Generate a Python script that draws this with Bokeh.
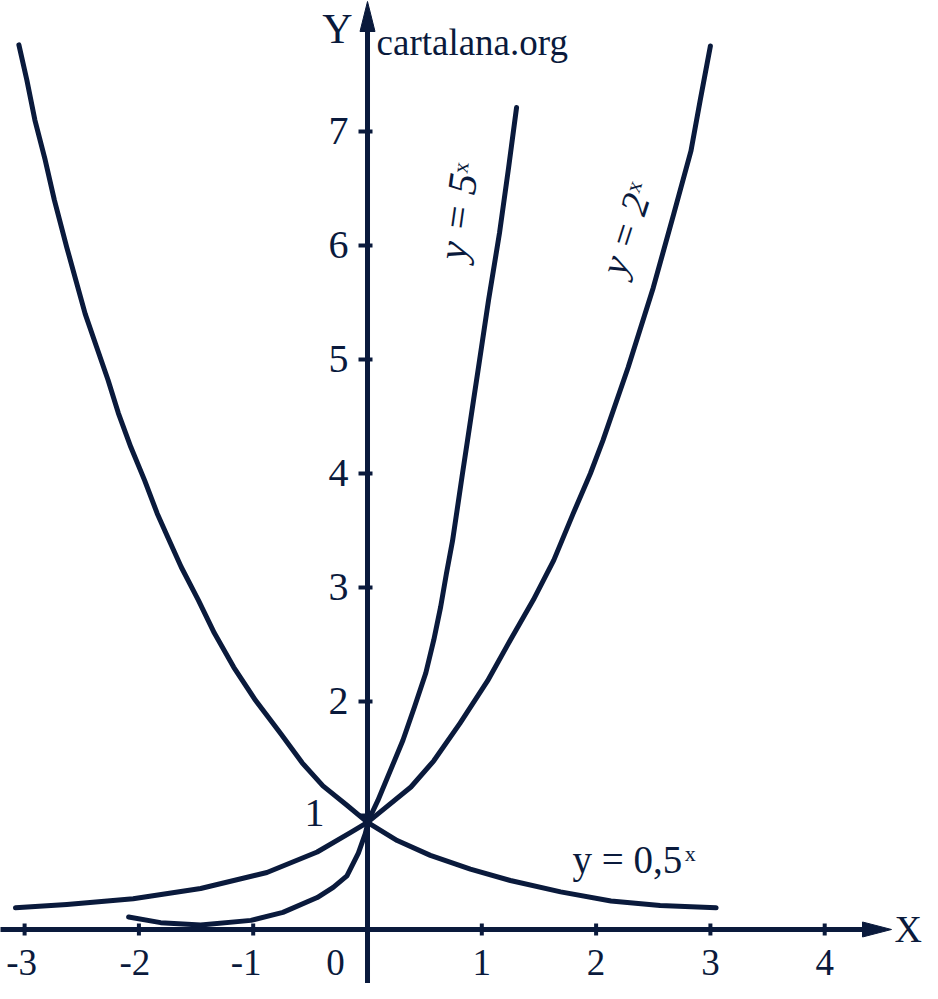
from bokeh.plotting import figure
from bokeh.models import Range1d, ColumnDataSource
from bokeh.embed import file_html
from bokeh.resources import INLINE
from bokeh.core.properties import value

# ---------------- data ----------------
# y = 0,5^x
HALF_X = [-3.05, -2.98, -2.91, -2.82, -2.74, -2.63, -2.55, -2.47, -2.37, -2.27, -2.18,
          -2.07, -1.95, -1.84, -1.76, -1.63, -1.48, -1.34, -1.17, -0.98, -0.76, -0.57,
          -0.39, -0.18, 0.00, 0.26, 0.55, 0.90, 1.25, 1.69, 2.13, 2.56, 3.05]
HALF_Y = [7.76, 7.45, 7.10, 6.75, 6.40, 5.98, 5.69, 5.40, 5.11, 4.82, 4.53,
          4.23, 3.94, 3.65, 3.47, 3.18, 2.89, 2.60, 2.30, 2.01, 1.72, 1.46,
          1.26, 1.09, 0.94, 0.78, 0.65, 0.53, 0.43, 0.33, 0.25, 0.21, 0.19]
# y = 2^x
TWO_X = [-3.08, -2.63, -2.05, -1.46, -0.88, -0.44, -0.15, 0.00, 0.38, 0.58, 0.81,
         1.05, 1.25, 1.45, 1.63, 1.80, 1.95, 2.06, 2.28, 2.50, 2.68, 2.83, 2.91, 3.00]
TWO_Y = [0.19, 0.22, 0.27, 0.36, 0.50, 0.68, 0.85, 0.94, 1.25, 1.48, 1.81,
         2.18, 2.54, 2.89, 3.24, 3.65, 4.00, 4.29, 4.93, 5.63, 6.28, 6.83, 7.27, 7.75]
# y = 5^x
FIVE_X = [-2.09, -1.81, -1.46, -1.02, -0.74, -0.44, -0.30, -0.18, -0.08, -0.02, 0.01,
          0.09, 0.19, 0.31, 0.41, 0.51, 0.58, 0.64, 0.69, 0.744, 0.787, 0.831, 0.875,
          0.927, 0.971, 1.059, 1.155, 1.234, 1.304]
FIVE_Y = [0.11, 0.06, 0.04, 0.08, 0.15, 0.28, 0.37, 0.47, 0.67, 0.84, 0.96,
          1.13, 1.37, 1.66, 1.95, 2.25, 2.54, 2.83, 3.12, 3.41, 3.70, 4.00, 4.29,
          4.64, 4.93, 5.52, 6.11, 6.68, 7.21]

X_TICKS = [-3, -2, -1, 1, 2, 3, 4]
X_TICK_LABELS = ["-3", "-2", "-1", "1", "2", "3", "4"]
Y_TICKS = [1, 2, 3, 4, 5, 6, 7]
Y_TICK_LABELS = ["1", "2", "3", "4", "5", "6", "7"]
ORIGIN_LABEL = "0"

# ---------------- styling / layout ----------------
NAVY = "#0a1a3c"
FONT = value("Liberation Serif")
PX = 114.3   # screen px per x unit
PY = 114.0   # screen px per y unit
X_START, X_END = -3.2109, 4.8556
Y_START, Y_END = -0.4737, 8.1491

p = figure(width=922, height=983, output_backend="svg", toolbar_location=None,
           x_range=Range1d(X_START, X_END), y_range=Range1d(Y_START, Y_END),
           x_axis_location=None, y_axis_location=None, min_border=0,
           outline_line_color=None, background_fill_color="white",
           border_fill_color="white")
p.grid.visible = False

TXT = dict(text_font=FONT, text_color=NAVY, text_baseline="middle")

# axes with arrow heads
x_tip = 4.5844
x_base = x_tip - 29 / PX
y_tip = Y_END - 1 / PY
y_base = y_tip - 30 / PY
p.segment(x0=[X_START - 0.2], y0=[0], x1=[x_base + 0.02], y1=[0], line_color=NAVY, line_width=5)
p.segment(x0=[0], y0=[Y_START - 0.2], x1=[0], y1=[y_base + 0.02], line_color=NAVY, line_width=5)
p.patch(x=[x_base, x_tip, x_base], y=[7.5 / PY, 0, -7.5 / PY],
        fill_color=NAVY, line_color=NAVY, line_width=1)
p.patch(x=[-7.5 / PX, 0, 7.5 / PX], y=[y_base, y_tip, y_base],
        fill_color=NAVY, line_color=NAVY, line_width=1)

# tick marks
p.segment(x0=X_TICKS, y0=[6 / PY] * len(X_TICKS), x1=X_TICKS, y1=[-6 / PY] * len(X_TICKS),
          line_color=NAVY, line_width=4)
p.segment(x0=[-9 / PX] * len(Y_TICKS), y0=Y_TICKS, x1=[5 / PX] * len(Y_TICKS), y1=Y_TICKS,
          line_color=NAVY, line_width=4)

# curves
for xs, ys in ((HALF_X, HALF_Y), (TWO_X, TWO_Y), (FIVE_X, FIVE_Y)):
    p.line(xs, ys, line_color=NAVY, line_width=5, line_cap="round", line_join="round")

# tick labels
xl_dx = [-3, -4, -7, 0, 0, 0, 0]
xsrc = ColumnDataSource(dict(x=X_TICKS, y=[0] * len(X_TICKS), text=X_TICK_LABELS,
                             dx=xl_dx, dy=[33] * len(X_TICKS)))
p.text(x="x", y="y", text="text", x_offset="dx", y_offset="dy", source=xsrc,
       text_font_size="37px", text_align="center", **TXT)
p.text(x=[0], y=[0], text=[ORIGIN_LABEL], x_offset=-32, y_offset=33,
       text_font_size="37px", text_align="center", **TXT)

yl_dx = [-43, -19, -19, -19, -19, -19, -19]
yl_dy = [-2, 0, 0, 0, 0, 0, 0]
ysrc = ColumnDataSource(dict(x=[0] * len(Y_TICKS), y=Y_TICKS, text=Y_TICK_LABELS,
                             dx=yl_dx, dy=yl_dy))
p.text(x="x", y="y", text="text", x_offset="dx", y_offset="dy", source=ysrc,
       text_font_size="40px", text_align="right", **TXT)

# axis names & watermark
p.text(x=[-0.131], y=[7.895], text=["Y"], text_font_size="42px", text_align="right", **TXT)
p.text(x=[4.611], y=[0.0], text=["X"], text_font_size="38px", text_align="left", **TXT)
p.text(x=[0.079], y=[7.777], text=["cartalana.org"], text_font_size="37px",
       text_align="left", **TXT)

# curve labels
p.text(x=[1.794], y=[0.617], text=["y = 0,5"], text_font_size="39px", text_align="left", **TXT)
p.text(x=[2.775], y=[0.671], text=["x"], text_font_size="22px", text_align="left", **TXT)

p.text(x=[0.787], y=[6.254], text=["y = 5"], angle=82, angle_units="deg",
       text_font_size="41px", text_font_style="italic", text_align="center", **TXT)
p.text(x=[0.814], y=[6.684], text=["x"], angle=82, angle_units="deg",
       text_font_size="22px", text_align="center", **TXT)

p.text(x=[2.249], y=[6.100], text=["y = 2"], angle=72, angle_units="deg",
       text_font_size="39px", text_font_style="italic", text_align="center", **TXT)
p.text(x=[2.327], y=[6.518], text=["x"], angle=72, angle_units="deg",
       text_font_size="22px", text_align="center", **TXT)

open("out.html", "w").write(file_html(p, INLINE))
